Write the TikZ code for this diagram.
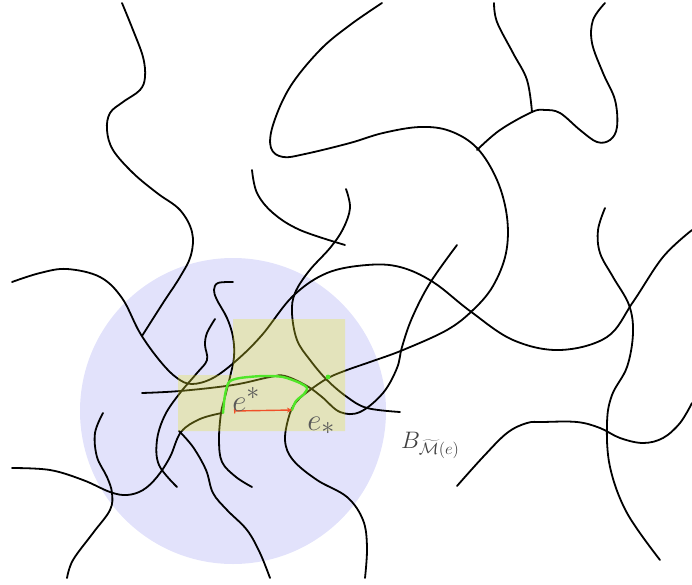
\documentclass[tikz,border=0pt]{standalone}
\usetikzlibrary{arrows.meta}
\definecolor{ballblue}{RGB}{226,226,251}
\definecolor{boxyellow}{RGB}{230,230,40}
\definecolor{pathgreen}{RGB}{80,230,40}
\definecolor{edgered}{RGB}{240,80,40}
\tikzset{
  strand/.style={line width=1.8pt, black, line cap=round, line join=round},
  lbl/.style={text=black!65, inner sep=0pt},
}
\begin{document}
\begin{tikzpicture}[x=1pt,y=-1pt]
\useasboundingbox (0,0) rectangle (692,585);
% ball
\fill[ballblue] (233,411) circle (153);
% strands
\draw[strand] plot[smooth,tension=0.6] coordinates {(122,3) (133,30) (143,57) (145,77) (140,90) (123,102) (110,113) (107,130) (113,150) (133,173) (157,193) (180,210) (192,232) (191,255) (180,277) (163,303) (142,336)};
\draw[strand] plot[smooth,tension=0.6] coordinates {(12,282) (40,273) (67,269) (100,277) (122,298) (140,333) (160,361) (177,378) (192,384) (213,378) (237,360) (262,335) (293,296) (327,273) (367,265) (400,267) (433,282) (470,311) (513,340) (560,350) (607,337) (633,302) (663,257) (692,230)};
\draw[strand] plot[smooth,tension=0.6] coordinates {(252,170) (257,193) (273,213) (300,230) (345,245)};
\draw[strand] plot[smooth,tension=0.6] coordinates {(346,189) (350,208) (343,229) (330,248) (309,271) (295,293) (292,313) (297,340) (310,360) (327,380) (347,397) (367,408) (400,412)};
\draw[strand] plot[smooth,tension=0.6] coordinates {(233,282) (218,283) (214,290) (217,300) (227,318) (233,337) (234,357) (230,377) (225,397) (221,413) (219,440) (222,462) (236,477) (252,487)};
\draw[strand] plot[smooth,tension=0.6] coordinates {(382,3) (350,25) (320,50) (290,87) (273,125) (271,148) (283,157) (305,154) (350,143) (383,133) (420,127) (450,131) (477,148) (497,180) (507,217) (506,253) (493,286) (473,310) (447,330) (403,350) (370,362) (347,370) (328,378) (310,390) (298,400) (290,413) (285,440) (293,460) (317,480) (347,497) (363,520) (367,547) (365,578)};
\draw[strand] plot[smooth,tension=0.6] coordinates {(477,150) (500,130) (532,112) (545,110) (560,113) (580,130) (597,142) (610,140) (617,127) (615,100) (603,73) (592,43) (593,20) (605,3)};
\draw[strand] plot[smooth,tension=0.6] coordinates {(494,3) (497,22) (513,53) (527,80) (532,112)};
\draw[strand] plot[smooth,tension=0.6] coordinates {(142,393) (180,391) (233,385) (270,377) (285,376) (307,386) (322,397) (340,412) (360,412) (383,393) (397,368) (402,347) (412,318) (430,283) (457,245)};
\draw[strand] plot[smooth,tension=0.6] coordinates {(12,468) (50,470) (83,480) (110,492) (127,495) (143,490) (157,477) (170,457) (181,432) (200,419) (222,413)};
\draw[strand] plot[smooth,tension=0.6] coordinates {(103,413) (95,433) (97,457) (107,477) (112,493) (110,510) (93,533) (73,560) (67,578)};
\draw[strand] plot[smooth,tension=0.6] coordinates {(179,431) (193,447) (206,470) (213,493) (227,510) (247,530) (260,553) (270,578)};
\draw[strand] plot[smooth,tension=0.6] coordinates {(215,319) (207,333) (205,345) (207,360) (197,373) (180,393) (165,415) (157,440) (159,465) (177,487)};
\draw[strand] plot[smooth,tension=0.6] coordinates {(605,208) (598,230) (600,253) (613,277) (629,305) (633,333) (627,367) (612,395) (607,423) (610,467) (627,513) (660,560)};
\draw[strand] plot[smooth,tension=0.6] coordinates {(457,486) (483,457) (507,433) (527,423) (543,422) (577,422) (600,428) (620,438) (643,443) (663,438) (680,423) (692,403)};
% box overlay
\fill[boxyellow, fill opacity=0.3] (178,375) -- (233,375) -- (233,319) -- (345,319) -- (345,431) -- (178,431) -- cycle;
% green cycle
\draw[pathgreen, line width=2.4pt, line cap=round, line join=round] plot[smooth,tension=0.45] coordinates {(223,413) (225,395) (229,382) (240,378) (263,376) (283,377) (300,383) (307,388) (304,394) (296,401) (292,410)};
\fill[pathgreen] (328,377) circle (2.4);
% red dual edge
\coordinate (ea) at (234,411);
\coordinate (eb) at (292,410);
\draw[edgered, line width=1.4pt, {Bar[width=5pt]}-{Stealth[length=5pt,width=5pt]}] (ea) -- (eb);
% labels
\node[lbl, anchor=base west, font=\Huge, scale=1.25] (estar) at (232,411) {$e^*$};
\node[lbl, anchor=base west, font=\Huge, scale=1.25] (elow) at (307,430) {$e_*$};
\node[lbl, anchor=base west, text=black!75, font=\huge, scale=1.15] (ball) at (401,448) {$B_{\widetilde{\mathcal{M}}(e)}$};
\end{tikzpicture}
\end{document}
